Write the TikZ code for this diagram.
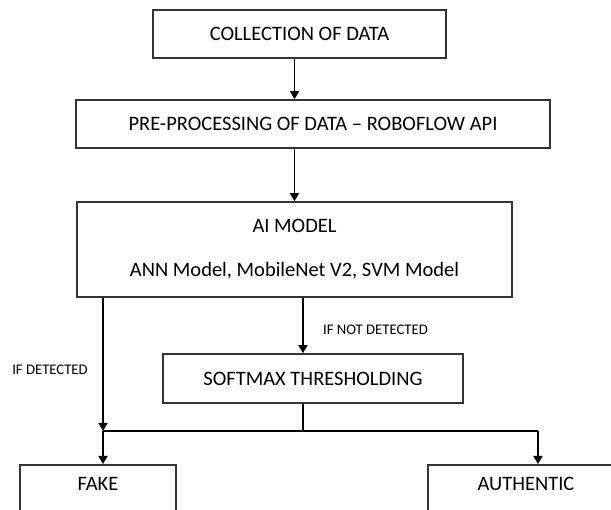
\documentclass[tikz,border=0pt]{standalone}
\usepackage{fontspec}
\setmainfont{Carlito}
\usetikzlibrary{arrows.meta}

\begin{document}
\begin{tikzpicture}[x=1pt, y=-1pt]
        \tikzstyle{boxStyle} = [rectangle, draw=black!80, line width=1.6pt, fill=white, inner sep=0pt, font=\fontsize{20.5}{24}\selectfont]
        \tikzstyle{arrowEdge} = [draw=black, line width=1.5pt, -{Triangle[length=8pt,width=9pt]}]
        \tikzstyle{lineEdge} = [draw=black, line width=1.5pt]
        \tikzstyle{labelStyle} = [font=\fontsize{14.7}{17}\selectfont, inner sep=0pt]
        \useasboundingbox (0,0) rectangle (611,510);
        \node[boxStyle, minimum width=293pt, minimum height=48pt] (collect) at (299.5,34) {COLLECTION OF DATA};
        \node[boxStyle, minimum width=474pt, minimum height=48pt] (prep) at (313,124) {PRE-PROCESSING OF DATA -- ROBOFLOW API};
        \node[boxStyle, minimum width=435pt, minimum height=95pt, align=center] (ai) at (294.5,249.5) {AI MODEL\\[20pt]ANN Model, MobileNet V2, SVM Model};
        \node[boxStyle, minimum width=300pt, minimum height=49pt] (soft) at (313,378.5) {SOFTMAX THRESHOLDING};
        \node[boxStyle, anchor=north, minimum width=156pt, inner ysep=12pt, text height=14pt, text depth=50pt] (fake) at (98,464) {FAKE};
        \node[boxStyle, anchor=north, minimum width=196pt, inner ysep=12pt, text height=14pt, text depth=50pt] (auth) at (526,464) {AUTHENTIC};
        \coordinate (split) at (103,431);
        \coordinate (mid) at (303,431);
        \coordinate (corner) at (538,431);
        \node[labelStyle] (ifDet) at (50,370) {IF DETECTED};
        \node[labelStyle] (ifNot) at (375.5,330) {IF NOT DETECTED};
        \draw[arrowEdge] (collect.south -| ai) -- (prep.north -| ai);
        \draw[arrowEdge] (prep.south -| ai) -- (ai.north);
        \draw[arrowEdge] (ai.south -| split) -- (split);
        \draw[arrowEdge] (split) -- (fake.north -| split);
        \draw[arrowEdge] (ai.south -| mid) -- (soft.north -| mid);
        \draw[lineEdge] (soft.south -| mid) -- (mid);
        \draw[lineEdge] (split) -- (corner);
        \draw[arrowEdge] (corner) -- (auth.north -| corner);
    \end{tikzpicture}
\end{document}
